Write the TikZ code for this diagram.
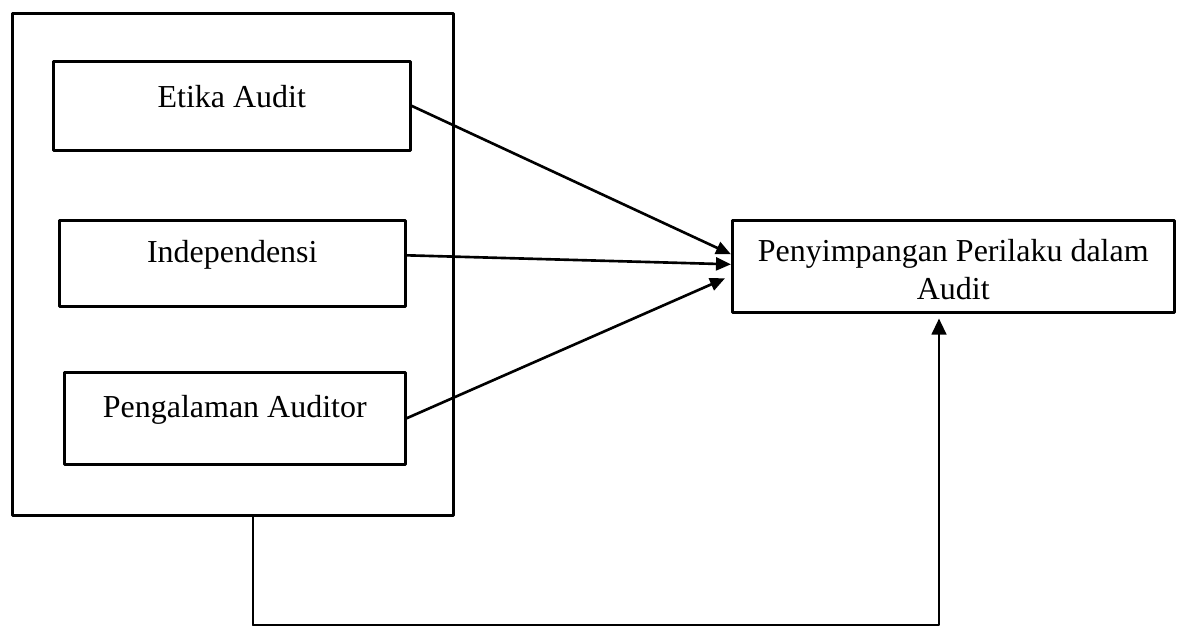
\documentclass[tikz,border=0pt]{standalone}
\usepackage{fontspec}
\setmainfont{Liberation Serif}
\usepackage{tikz}
\usetikzlibrary{shapes,positioning}
\usetikzlibrary{calc}
\usetikzlibrary{arrows.meta}
\begin{document}
\begin{tikzpicture}[font=\fontsize{18.2}{21.6}\selectfont,line cap=round,line join=round,>={Triangle[length=0.3cm,width=0.26cm]},x=0.02cm,y=-0.02cm,
  kotak/.style={draw,line width=1.5pt,inner sep=0pt,anchor=north west,align=center},
  panah/.style={->,line width=1.5pt},
  tipis/.style={-{Triangle[length=0.32cm,width=0.3cm]},line width=0.8pt}]
\useasboundingbox (0,0) rectangle (1181,626);
% kelompok variabel independen
\node[kotak,minimum width=8.82cm,minimum height=10.04cm] (grup) at (11,12) {};
\node[kotak,minimum width=7.14cm,text height=0.92cm,text depth=0.86cm] (etika) at (52,60) {Etika Audit};
\node[kotak,minimum width=6.92cm,text height=0.84cm,text depth=0.88cm] (indep) at (58,219) {Independensi};
\node[kotak,minimum width=6.82cm,text height=0.90cm,text depth=0.94cm] (alaman) at (63,371) {Pengalaman Auditor};
% variabel dependen
\node[kotak,minimum width=8.84cm,text height=1.58cm,text depth=0.26cm] (sim) at (731,219) {Penyimpangan Perilaku dalam\\Audit};
% panah
\draw[panah] (etika.east) -- ([yshift=0.24cm]sim.west);
\draw[panah] ([yshift=0.16cm]indep.east) -- ([yshift=0.04cm]sim.west);
\draw[panah] (alaman.east) -- ([xshift=-0.12cm,yshift=-0.24cm]sim.west);
% simultan
\coordinate (turun) at (253,625);
\coordinate (belok) at (939,625);
\draw[line width=1.5pt] (grup.south -| turun) -- (turun);
\draw[tipis] (turun) -- (belok) -- ([yshift=-0.1cm]sim.south -| belok);
\end{tikzpicture}
\end{document}
